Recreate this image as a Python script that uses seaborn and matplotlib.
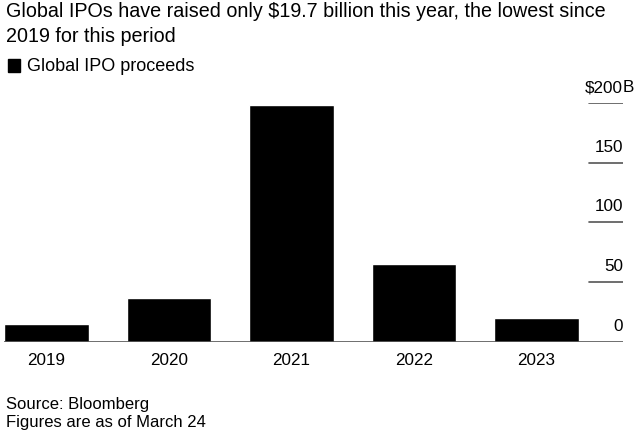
import matplotlib
matplotlib.use("Agg")
import matplotlib.pyplot as plt
import matplotlib.transforms as mtransforms
import pandas as pd
import seaborn as sns

# データ（画像から読み取り、単位：十億ドル）
years = ["2019", "2020", "2021", "2022", "2023"]
proceeds = [14.7, 36.3, 198.7, 65.4, 19.7]
y_ticks = [0, 50, 100, 150, 200]
y_labels = ["0", "50", "100", "150", "$200"]

title = "Global IPOs have raised only $19.7 billion this year, the lowest since\n2019 for this period"
legend_label = "Global IPO proceeds"
footer = "Source: Bloomberg\nFigures are as of March 24"

sns.set_theme(style="white")
plt.rcParams['font.family'] = ['Liberation Sans', 'DejaVu Sans']

df = pd.DataFrame({"year": years, "proceeds": proceeds})

fig = plt.figure(figsize=(6.4, 4.38), dpi=100)
ax = fig.add_axes([0.00625, 0.2203, 0.9672, 0.5439])

sns.barplot(data=df, x="year", y="proceeds", color="black", saturation=1,
            width=0.69, ax=ax)

ax.set_ylim(0, 200)
ax.set_xlim(-0.345, 4.705)
sns.despine(ax=ax, left=True, bottom=True)
ax.set_xlabel("")
ax.set_ylabel("")
ax.set_yticks([])
ax.tick_params(axis="x", length=0, pad=8, labelsize=12.3, colors="black")

# 右側の短い目盛り線とラベル
gray = "#555555"
ax.axhline(0, color=gray, lw=1.2, zorder=3)
label_tf = mtransforms.offset_copy(ax.get_yaxis_transform(), fig=fig, x=0, y=11, units="dots")
for v, lab in zip(y_ticks, y_labels):
    if v > 0:
        ax.axhline(v, xmin=0.945, xmax=1.0, color=gray, lw=1.2)
    ax.text(1.0, v, lab, transform=label_tf, ha="right", va="baseline",
            fontsize=12.3, color="black")
    if v == y_ticks[-1]:
        ax.text(1.0, v, "B", transform=label_tf, ha="left", va="baseline",
                fontsize=12.3, color="black")

# タイトル・凡例・出典
fig.text(0.0094, 0.995, title, ha="left", va="top", fontsize=14.2,
         color="black", linespacing=1.4)
fig.patches.append(plt.Rectangle((0.0125, 0.8356), 0.019, 0.0297, color="black",
                                 transform=fig.transFigure, figure=fig))
fig.text(0.042, 0.849, legend_label, ha="left", va="center", fontsize=13, color="black")
fig.text(0.0094, 0.094, footer, ha="left", va="top", fontsize=12,
         color="black", linespacing=1.25)

fig.savefig("out.png", dpi=100)
plt.close(fig)
